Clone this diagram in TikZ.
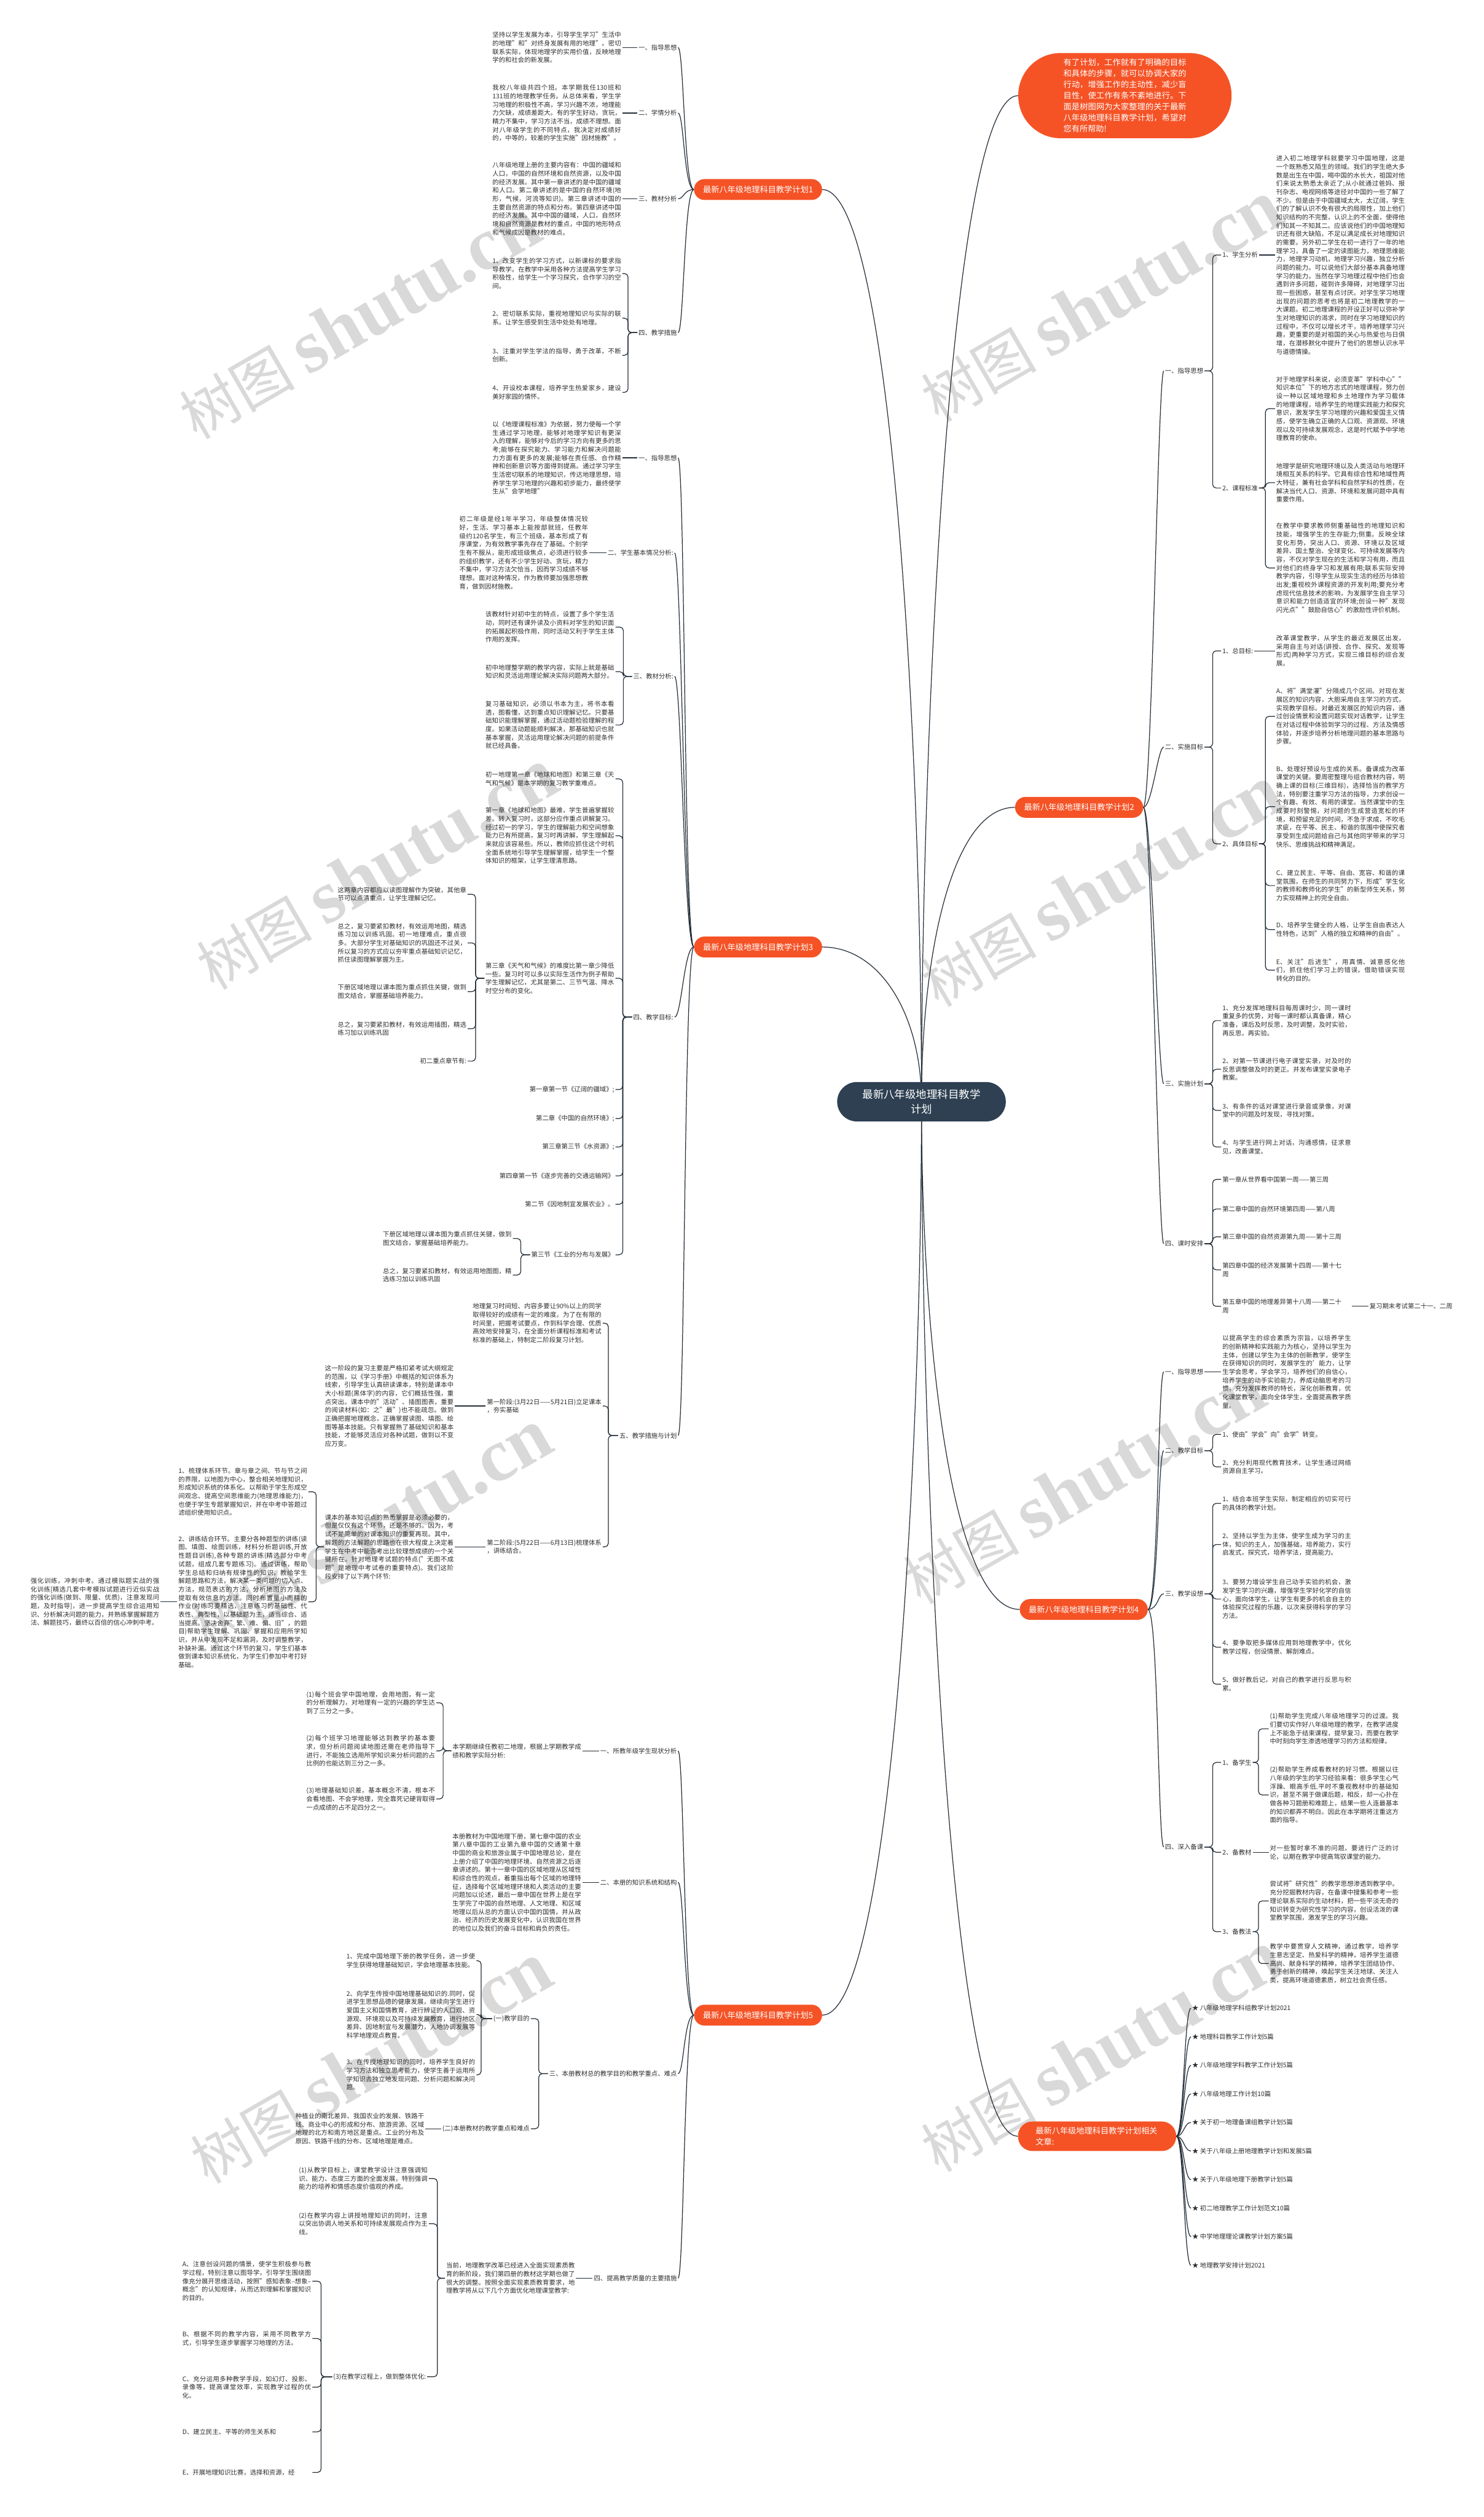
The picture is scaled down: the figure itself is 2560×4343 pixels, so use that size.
\documentclass[tikz,border=0pt]{standalone}
\usepackage{fontspec}
\setmainfont{Noto Sans CJK SC}
\newfontfamily\wmfont{Liberation Serif}
\usepackage{xcolor}
\usepackage{tikz}
\usetikzlibrary{positioning, backgrounds}
\XeTeXlinebreaklocale "zh"
\XeTeXlinebreakskip = 0pt plus 1pt
\tolerance=9999
\emergencystretch=6pt

\definecolor{accent}{RGB}{245,83,38}
\definecolor{rootc}{RGB}{46,64,82}
\definecolor{linec}{RGB}{35,45,55}
\definecolor{textc}{RGB}{45,45,45}
\newcommand{\txtsize}{\fontsize{11}{14.5}\selectfont}
\newcommand{\plansize}{\fontsize{14}{19}\selectfont}

\begin{document}
\begin{tikzpicture}[x=1pt, y=-1pt,
        txt/.style={font=\txtsize, text=textc, text width=222pt, align=justify, inner sep=2pt},
        lbl/.style={font=\txtsize, text=textc, inner sep=2pt},
        plan/.style={fill=accent, text=white, rounded corners=18pt, minimum width=221pt, minimum height=36pt, font=\plansize, inner sep=0pt},
        rootnode/.style={fill=rootc, text=white, rounded corners=34pt, minimum width=291pt, minimum height=68pt, align=center, font=\fontsize{18.5}{25}\selectfont},
        intronode/.style={fill=accent, text=white, rounded corners=73pt, minimum width=368pt, minimum height=147pt, text width=212pt, align=justify, font=\plansize},
        link/.style={draw=linec, line width=1.3pt},
        brace/.style={link, rounded corners=6pt},
        wm/.style={text=black!15, rotate=30, inner sep=0pt}
    ]
    \useasboundingbox (0,0) rectangle (2560,4343);

    % centre
    \node[rootnode] (root) at (1590,1901) {最新八年级地理科目教学\\计划};
    \node[intronode] (intro) at (1941,165) {有了计划，工作就有了明确的目标和具体的步骤，就可以协调大家的行动，增强工作的主动性，减少盲目性，使工作有条不紊地进行。下面是树图网为大家整理的关于最新八年级地理科目教学计划，希望对您有所帮助!};
    \node[plan] (p1) at (1308,327) {最新八年级地理科目教学计划1};
    \node[plan] (p3) at (1308,1634) {最新八年级地理科目教学计划3};
    \node[plan] (p5) at (1308,3477) {最新八年级地理科目教学计划5};
    \node[plan] (p2) at (1862,1393) {最新八年级地理科目教学计划2};
    \node[plan] (p4) at (1870,2777) {最新八年级地理科目教学计划4};
    \node[plan, minimum width=273pt, minimum height=51pt, rounded corners=25pt, text width=212pt, align=left] (rel) at (1893,3686) {最新八年级地理科目教学计划相关\\文章:};

    % plan 1
    \node[lbl, anchor=east] (p1a) at (1170,82) {一、指导思想};
    \node[txt, anchor=east] (p1at) at (1074,82) {坚持以学生发展为本，引导学生学习"生活中的地理"和"对终身发展有用的地理"。密切联系实际，体现地理学的实用价值，反映地理学的和社会的新发展。};
    \node[lbl, anchor=east] (p1b) at (1170,195) {二、学情分析};
    \node[txt, anchor=east] (p1bt) at (1074,195) {我校八年级共四个班。本学期我任130班和131班的地理教学任务。从总体来看，学生学习地理的积极性不高，学习兴趣不浓，地理能力欠缺，成绩差距大。有的学生好动，贪玩，精力不集中，学习方法不当，成绩不理想。面对八年级学生的不同特点，我决定对成绩好的，中等的，较差的学生实施"因材施教"。};
    \node[lbl, anchor=east] (p1c) at (1170,343) {三、教材分析};
    \node[txt, anchor=east] (p1ct) at (1074,343) {八年级地理上册的主要内容有：中国的疆域和人口，中国的自然环境和自然资源，以及中国的经济发展。其中第一章讲述的是中国的疆域和人口。第二章讲述的是中国的自然环境(地形，气候，河流等知识)。第三章讲述中国的主要自然资源的特点和分布。第四章讲述中国的经济发展。其中中国的疆域，人口，自然环境和自然资源是教材的重点，中国的地形特点和气候成因是教材的难点。};
    \node[lbl, anchor=east] (p1d) at (1170,574) {四、教学措施};
    \node[txt, anchor=east] (p1d1) at (1074,472) {1、改变学生的学习方式，以新课标的要求指导教学。在教学中采用各种方法提高学生学习积极性，给学生一个学习探究，合作学习的空间。};
    \node[txt, anchor=east] (p1d2) at (1074,549) {2、密切联系实际，重视地理知识与实际的联系。让学生感受到生活中处处有地理。};
    \node[txt, anchor=east] (p1d3) at (1074,613) {3、注重对学生学法的指导，勇于改革，不断创新。};
    \node[txt, anchor=east] (p1d4) at (1074,677) {4、开设校本课程，培养学生热爱家乡，建设美好家园的情怀。};

    % plan 3
    \node[lbl, anchor=east] (p3a) at (1170,790) {一、指导思想};
    \node[txt, anchor=east] (p3at) at (1074,790) {以《地理课程标准》为依据，努力使每一个学生通过学习地理，能够对地理学知识有更深入的理解，能够对今后的学习方向有更多的思考;能够在探究能力、学习能力和解决问题能力方面有更多的发展;能够在责任感、合作精神和创新意识等方面得到提高。通过学习学生生活密切联系的地理知识，传达地理思想，培养学生学习地理的兴趣和初步能力，最终使学生从"会学地理"};
    \node[lbl, anchor=east] (p3b) at (1164,954) {二、学生基本情况分析:};
    \node[txt, anchor=east] (p3bt) at (1017,954) {初二年级是经1年半学习，年级整体情况较好，生活、学习基本上能按部就班，任教年级约120名学生，有三个班级，基本形成了有序课堂，为有效教学事先存在了基础。个别学生有不服从，能形成班级焦点，必须进行较多的组织教学，还有不少学生好动、贪玩，精力不集中，学习方法欠恰当，因而学习成绩不够理想。面对这种情况，作为教师要加强思想教育，做到因材施教。};
    \node[lbl, anchor=east] (p3c) at (1164,1167) {三、教材分析:};
    \node[txt, anchor=east] (p3c1) at (1062,1082) {该教材针对初中生的特点，设置了多个学生活动，同时还有课外读及小资料对学生的知识面的拓展起积极作用，同时活动又利于学生主体作用的发挥。};
    \node[txt, anchor=east] (p3c2) at (1062,1159) {初中地理整学期的教学内容，实际上就是基础知识和灵活运用理论解决实际问题两大部分。};
    \node[txt, anchor=east] (p3c3) at (1062,1251) {复习基础知识，必须以书本为主，将书本看透，图看懂，达到重点知识理解记忆。只要基础知识能理解掌握，通过活动题检验理解的程度。如果活动题能顺利解决，那基础知识也就基本掌握，灵活运用理论解决问题的前提条件就已经具备。};
    \node[lbl, anchor=east] (p3d) at (1164,1755) {四、教学目标:};
    \node[txt, anchor=east] (p3d1) at (1062,1344) {初一地理第一章《地球和地图》和第三章《天气和气候》是本学期的复习教学重难点。};
    \node[txt, anchor=east] (p3d2) at (1062,1442) {第一章《地球和地图》最难，学生普遍掌握较差。转入复习时，这部分应作重点讲解复习。经过初一的学习，学生的理解能力和空间想象能力已有所提高，复习时再讲解，学生理解起来就应该容易些。所以，教师应抓住这个时机全面系统地引导学生理解掌握，给学生一个整体知识的框架，让学生理清思路。};
    \node[txt, anchor=east] (p3d3) at (1062,1688) {第三章《天气和气候》的难度比第一章少降低一些。复习时可以多以实际生活作为例子帮助学生理解记忆，尤其是第二、三节气温、降水时空分布的变化。};
    \node[txt, anchor=east] (p3d3a) at (807,1543) {这两章内容都应以读图理解作为突破，其他章节可以点清重点，让学生理解记忆。};
    \node[txt, anchor=east] (p3d3b) at (807,1627) {总之，复习要紧扣教材，有效运用地图，精选练习加以训练巩固。初一地理难点，重点很多。大部分学生对基础知识的巩固还不过关，所以复习的方式应以夯牢重点基础知识记忆，抓住读图理解掌握为主。};
    \node[txt, anchor=east] (p3d3c) at (807,1711) {下册区域地理以课本图为重点抓住关键，做到图文结合，掌握基础培养能力。};
    \node[txt, anchor=east] (p3d3d) at (807,1775) {总之，复习要紧扣教材，有效运用插图，精选练习加以训练巩固};
    \node[lbl, anchor=east] (p3d3e) at (807,1831) {初二重点章节有:};
    \node[lbl, anchor=east] (p3d4) at (1062,1880) {第一章第一节《辽阔的疆域》;};
    \node[lbl, anchor=east] (p3d5) at (1062,1930) {第二章《中国的自然环境》;};
    \node[lbl, anchor=east] (p3d6) at (1062,1979) {第三章第三节《水资源》;};
    \node[lbl, anchor=east] (p3d7) at (1062,2029) {第四章第一节《逐步完善的交通运输网》};
    \node[lbl, anchor=east] (p3d8) at (1062,2078) {第二节《因地制宜发展农业》。};
    \node[lbl, anchor=east] (p3d9) at (1062,2165) {第三节《工业的分布与发展》};
    \node[txt, anchor=east] (p3d9a) at (885,2137) {下册区域地理以课本图为重点抓住关键，做到图文结合，掌握基础培养能力。};
    \node[txt, anchor=east] (p3d9b) at (885,2200) {总之，复习要紧扣教材，有效运用地图图，精选练习加以训练巩固};
    \node[lbl, anchor=east] (p3e) at (1170,2477) {五、教学措施与计划};
    \node[txt, anchor=east] (p3e1) at (1040,2283) {地理复习时间短、内容多要让90\%以上的同学取得较好的成绩有一定的难度。为了在有限的时间里，把握考试要点，作到科学合理、优质高效地安排复习，在全面分析课程标准和考试标准的基础上，特制定二阶段复习计划。};
    \node[lbl, anchor=east, align=left] (p3e2) at (1040,2426) {第一阶段:(3月22日——5月21日)立足课本\\，夯实基础};
    \node[txt, anchor=east] (p3e2a) at (785,2426) {这一阶段的复习主要是严格扣紧考试大纲规定的范围，以《学习手册》中概括的知识体系为线索，引导学生认真研读课本，特别是课本中大小标题(黑体字)的内容，它们概括性强，重点突出。课本中的"活动"、插图图表，重要的阅读材料(如：之"最")也不能疏忽。做到正确把握地理概念，正确掌握读图、填图、绘图等基本技能。只有掌握熟了基础知识和基本技能，才能够灵活应对各种试题，做到以不变应万变。};
    \node[lbl, anchor=east, align=left] (p3e3) at (1040,2669) {第二阶段:(5月22日——6月13日)梳理体系\\，讲练结合。};
    \node[txt, anchor=east] (p3e3a) at (785,2669) {课本的基本知识点的熟悉掌握是必须必要的，但是仅仅有这个环节，还是不够的。因为，考试不是简单的对课本知识的重复再现。其中，解题的方法解题的思路也在很大程度上决定着学生在中考中能否考出比较理想成绩的一个关键所在。针对地理考试题的特点("无图不成题"是地理中考试卷的重要特点)。我们这阶段安排了以下两个环节:};
    \node[txt, anchor=east] (p3e3a1) at (532,2574) {1、梳理体系环节。章与章之间、节与节之间的界限，以地图为中心，整合相关地理知识，形成知识系统的体系化。以帮助于学生形成空间观念、提高空间思维能力(地理思维能力)，也便于学生专题掌握知识，并在中考中答题过滤组织使用知识点。};
    \node[txt, anchor=east] (p3e3a2) at (532,2764) {2、讲练结合环节。主要分各种题型的讲练(读图、填图、绘图训练，材料分析题训练,开放性题目训练),各种专题的讲练(精选部分中考试题，组成几套专题练习)。通过讲练，帮助学生总结和归纳有规律性的知识，教给学生解题思路和方法，解决某一类问题的切入点、方法，规范表达的方法，分析地图的方法及提取有效信息的方法。同时布置量小而精的作业(对练习要精选，注意练习的基础性、代表性、典型性，以基础题为主，适当综合、适当提高。坚决舍弃"繁、难、偏、旧"，的题目)帮助学生理解、巩固、掌握和应用所学知识，并从中发现不足和漏洞，及时调整教学，补缺补漏。通过这个环节的复习，学生们基本做到课本知识系统化，为学生们参加中考打好基础。};
    \node[txt, anchor=east] (p3e3a2a) at (277,2764) {强化训练，冲刺中考。通过模拟题实战的强化训练[精选几套中考模拟试题进行近似实战的强化训练(做到、限量、优质)，注意发现问题，及时指导]，进一步提高学生综合运用知识、分析解决问题的能力，并熟练掌握解题方法、解题技巧，最终以百倍的信心冲刺中考。};

    % plan 5
    \node[lbl, anchor=east] (p5a) at (1170,3021) {一、所教年级学生现状分析};
    \node[txt, anchor=east] (p5at) at (1005,3021) {本学期继续任教初二地理，根据上学期教学成绩和教学实际分析:};
    \node[txt, anchor=east] (p5a1) at (753,2938) {(1)每个班会学中国地理，会用地图，有一定的分析理解力，对地理有一定的兴趣的学生达到了三分之一多。};
    \node[txt, anchor=east] (p5a2) at (753,3021) {(2)每个班学习地理能够达到教学的基本要求，但分析问题阅读地图还需在老师指导下进行，不能独立选用所学知识来分析问题的占比例的也能达到三分之一多。};
    \node[txt, anchor=east] (p5a3) at (753,3104) {(3)地理基础知识差，基本概念不清，根本不会看地图、不会学地理，完全靠死记硬背取得一点成绩的占不足四分之一。};
    \node[lbl, anchor=east] (p5b) at (1170,3248) {二、本册的知识系统和结构};
    \node[txt, anchor=east] (p5bt) at (1005,3248) {本册教材为中国地理下册，第七章中国的农业第八章中国的工业第九章中国的交通第十章中国的商业和旅游业属于中国地理总论，是在上册介绍了中国的地理环境、自然资源之后逐章讲述的。第十一章中国的区域地理从区域性和综合性的观点，着重指出每个区域的地理特征，选择每个区域地理环境和人类活动的主要问题加以论述，最后一章中国在世界上是在学生学完了中国的自然地理、人文地理、和区域地理以后从总的方面认识中国的国情，并从政治、经济的历史发展变化中，认识我国在世界的地位以及我们的奋斗目标和肩负的责任。};
    \node[lbl, anchor=east] (p5c) at (1170,3578) {三、本册教材总的教学目的和教学重点、难点};
    \node[lbl, anchor=east] (p5c1) at (916,3483) {(一)教学目的};
    \node[txt, anchor=east] (p5c1a) at (822,3383) {1、完成中国地理下册的教学任务，进一步使学生获得地理基础知识，学会地理基本技能。};
    \node[txt, anchor=east] (p5c1b) at (822,3476) {2、向学生传授中国地理基础知识的.同时，促进学生思想品德的健康发展，继续向学生进行爱国主义和国情教育，进行辨证的人口观、资源观、环境观以及可持续发展教育，进行地区差异、因地制宜与发展潜力，人地协调发展等科学地理观点教育。};
    \node[txt, anchor=east] (p5c1c) at (822,3580) {3、在传授地理知识的同时，培养学生良好的学习方法和独立思考能力，使学生善于运用所学知识去独立地发现问题、分析问题和解决问题。};
    \node[lbl, anchor=east] (p5c2) at (916,3673) {(二)本册教材的教学重点和难点};
    \node[txt, anchor=east] (p5c2t) at (734,3673) {种植业的南北差异、我国农业的发展、铁路干线、商业中心的形成和分布、旅游资源、区域地理的北方和南方地区是重点。工业的分布及原因、铁路干线的分布、区域地理是难点。};
    \node[lbl, anchor=east] (p5d) at (1170,3931) {四、提高教学质量的主要措施};
    \node[txt, anchor=east] (p5dt) at (994,3931) {当前，地理教学改革已经进入全面实现素质教育的新阶段，我们第四册的教材这学期也做了很大的调整。按照全面实现素质教育要求，地理教学将从以下几个方面优化地理课堂教学:};
    \node[txt, anchor=east] (p5d1) at (740,3759) {(1)从教学目标上，课堂教学设计注意强调知识、能力、态度三方面的全面发展，特别强调能力的培养和情感态度价值观的养成。};
    \node[txt, anchor=east] (p5d2) at (740,3837) {(2)在教学内容上讲授地理知识的同时，注意以突出协调人地关系和可持续发展观点作为主线。};
    \node[lbl, anchor=east] (p5d3) at (737,4101) {(3)在教学过程上，做到整体优化:};
    \node[txt, anchor=east] (p5d3a) at (539,3936) {A、注意创设问题的情景，使学生积极参与教学过程，特别注意以图导学，引导学生围绕图像充分展开思维活动，按照"感知表象--想象--概念"的认知规律，从而达到理解和掌握知识的目的。};
    \node[txt, anchor=east] (p5d3b) at (539,4035) {B、根据不同的教学内容，采用不同教学方式，引导学生逐步掌握学习地理的方法。};
    \node[txt, anchor=east] (p5d3c) at (539,4119) {C、充分运用多种教学手段，如幻灯、投影、录像等，提高课堂效率，实现教学过程的优化。};
    \node[txt, anchor=east] (p5d3d) at (539,4196) {D、建立民主、平等的师生关系和};
    \node[txt, anchor=east] (p5d3e) at (539,4266) {E、开展地理知识比赛，选择和资源，经};

    % plan 2
    \node[lbl, anchor=west] (p2a) at (2008,640) {一、指导思想};
    \node[lbl, anchor=west] (p2a1) at (2107,440) {1、学生分析};
    \node[txt, anchor=west] (p2a1t) at (2200,440) {进入初二地理学科就要学习中国地理，这是一个既熟悉又陌生的领域。我们的学生绝大多数是出生在中国，喝中国的水长大，祖国对他们来说太熟悉太亲近了;从小就通过爸妈、报刊杂志、电视网络等途径对中国的一些了解了不少。但是由于中国疆域太大，太辽阔，学生们的了解认识不免有很大的局限性，加上他们知识结构的不完整，认识上的不全面，使得他们知其一不知其二。应该说他们的中国地理知识还有很大缺陷，不足以满足成长对地理知识的需要。另外初二学生在初一进行了一年的地理学习，具备了一定的读图能力，地理思维能力，地理学习动机，地理学习兴趣，独立分析问题的能力。可以说他们大部分基本具备地理学习的能力。当然在学习地理过程中他们也会遇到许多问题，碰到许多障碍，对地理学习出现一些困惑，甚至有点讨厌。对学生学习地理出现的问题的思考也将是初二地理教学的一大课题。初二地理课程的开设正好可以弥补学生对地理知识的渴求，同时在学习地理知识的过程中，不仅可以增长才干，培养地理学习兴趣，更重要的是对祖国的关心与热爱也与日俱增，在潜移默化中提升了他们的思想认识水平与道德情操。};
    \node[lbl, anchor=west] (p2a2) at (2107,842) {2、课程标准};
    \node[txt, anchor=west] (p2a2a) at (2200,705) {对于地理学科来说，必须变革"学科中心""知识本位"下的地方志式的地理课程，努力创设一种以区域地理和乡土地理作为学习载体的地理课程，培养学生的地理实践能力和探究意识，激发学生学习地理的兴趣和爱国主义情感，使学生确立正确的人口观、资源观、环境观以及可持续发展观念，这是时代赋予中学地理教育的使命。};
    \node[txt, anchor=west] (p2a2b) at (2200,833) {地理学是研究地理环境以及人类活动与地理环境相互关系的科学。它具有综合性和地域性两大特征，兼有社会学科和自然学科的性质，在解决当代人口、资源、环境和发展问题中具有重要作用。};
    \node[txt, anchor=west] (p2a2c) at (2200,980) {在教学中要求教师侧重基础性的地理知识和技能，增强学生的生存能力;侧重。反映全球变化形势，突出人口、资源、环境以及区域差异、国土整治、全球变化、可持续发展等内容，不仅对学生现在的生活和学习有用，而且对他们的终身学习和发展有用;联系实际安排教学内容，引导学生从现实生活的经历与体验出发;重视校外课程资源的开发利用;要充分考虑现代信息技术的影响，为发展学生自主学习意识和能力创造适宜的环境;创设一种"发现闪光点""鼓励自信心"的激励性评价机制。};
    \node[lbl, anchor=west] (p2b) at (2008,1289) {二、实施目标};
    \node[lbl, anchor=west] (p2b1) at (2107,1123) {1、总目标:};
    \node[txt, anchor=west] (p2b1t) at (2200,1123) {改革课堂教学，从学生的最近发展区出发，采用自主与对话(讲授、合作、探究、发现等形式)两种学习方式，实现三维目标的综合发展。};
    \node[lbl, anchor=west] (p2b2) at (2107,1456) {2、具体目标};
    \node[txt, anchor=west] (p2b2a) at (2200,1236) {A、将"满堂灌"分隔成几个区间。对现在发展区的知识内容，大胆采用自主学习的方式，实现教学目标。对最近发展区的知识内容，通过创设情景和设置问题实现对话教学，让学生在对话过程中体验到学习的过程、方法及情感体验，并逐步培养分析地理问题的基本思路与步骤。};
    \node[txt, anchor=west] (p2b2b) at (2200,1392) {B、处理好预设与生成的关系。备课成为改革课堂的关键。要周密整理与组合教材内容，明确上课的目标(三维目标)，选择恰当的教学方法，特别要注重学习方法的指导，力求创设一个有趣、有效、有用的课堂。当然课堂中的生成要时刻警惕，对问题的生成营造宽松的环境，和预留充足的时间，不急于求成，不吹毛求疵，在平等、民主、和谐的氛围中使探究者享受到生成问题给自己与其他同学带来的学习快乐、思维挑战和精神满足。};
    \node[txt, anchor=west] (p2b2c) at (2200,1528) {C、建立民主、平等、自由、宽容、和谐的课堂氛围，在师生的共同努力下，形成"学生化的教师和教师化的学生"的新型师生关系，努力实现精神上的完全自由。};
    \node[txt, anchor=west] (p2b2d) at (2200,1604) {D、培养学生健全的人格，让学生自由表达人性特色，达到"人格的独立和精神的自由"。};
    \node[txt, anchor=west] (p2b2e) at (2200,1674) {E、关注"后进生"，用真情、诚意感化他们，抓住他们学习上的错误，借助错误实现转化的目的。};
    \node[lbl, anchor=west] (p2c) at (2008,1870) {三、实施计划};
    \node[txt, anchor=west] (p2c1) at (2107,1761) {1、充分发挥地理科目每周课时少，同一课时重复多的优势，对每一课时都认真备课，精心准备，课后及时反思，及时调整，及时实验，再反思，再实验。};
    \node[txt, anchor=west] (p2c2) at (2107,1845) {2、对第一节课进行电子课堂实录，对及时的反思调整做及时的更正。并发布课堂实录电子教案。};
    \node[txt, anchor=west] (p2c3) at (2107,1916) {3、有条件的话对课堂进行录音或录像，对课堂中的问题及时发现，寻找对策。};
    \node[txt, anchor=west] (p2c4) at (2107,1979) {4、与学生进行网上对话，沟通感情，征求意见，改善课堂。};
    \node[lbl, anchor=west] (p2d) at (2008,2146) {四、课时安排};
    \node[lbl, anchor=west] (p2d1) at (2107,2035) {第一章从世界看中国第一周——第三周};
    \node[lbl, anchor=west] (p2d2) at (2107,2086) {第二章中国的自然环境第四周——第八周};
    \node[lbl, anchor=west] (p2d3) at (2107,2134) {第三章中国的自然资源第九周——第十三周};
    \node[lbl, anchor=west, align=left] (p2d4) at (2107,2191) {第四章中国的经济发展第十四周——第十七\\周};
    \node[lbl, anchor=west, align=left] (p2d5) at (2107,2254) {第五章中国的地理差异第十八周——第二十\\周};
    \node[lbl, anchor=west] (p2d5a) at (2361,2254) {复习期末考试第二十一、二周};

    % plan 4
    \node[lbl, anchor=west] (p4a) at (2008,2367) {一、指导思想};
    \node[txt, anchor=west] (p4at) at (2107,2367) {以提高学生的综合素质为宗旨，以培养学生的创新精神和实践能力为核心，坚持以学生为主体，创建以学生为主体的创新教学，使学生在获得知识的同时，发展学生的'能力，让学生学会思考，学会学习，培养他们的自信心，培养学生的动手实验能力，养成动脑思考的习惯，充分发挥教师的特长，深化创新教育，优化课堂教学，面向全体学生，全面提高教学质量。};
    \node[lbl, anchor=west] (p4b) at (2008,2503) {二、教学目标};
    \node[lbl, anchor=west] (p4b1) at (2107,2475) {1、使由"学会"向"会学"转变。};
    \node[txt, anchor=west] (p4b2) at (2107,2531) {2、充分利用现代教育技术，让学生通过网络资源自主学习。};
    \node[lbl, anchor=west] (p4c) at (2008,2750) {三、教学设想};
    \node[txt, anchor=west] (p4c1) at (2107,2594) {1、结合本班学生实际，制定相应的切实可行的具体的教学计划。};
    \node[txt, anchor=west] (p4c2) at (2107,2665) {2、坚持以学生为主体，使学生成为学习的主体，知识的主人，加强基础，培养能力，实行启发式，探究式，培养学法，提高能力。};
    \node[txt, anchor=west] (p4c3) at (2107,2759) {3、要努力增设学生自己动手实验的机会，激发学生学习的兴趣，增强学生学好化学的自信心，面向体学生，让学生有更多的机会自主的体验探究过程的乐趣，以次来获得科学的学习方法。};
    \node[txt, anchor=west] (p4c4) at (2107,2842) {4、要争取把多媒体应用到地理教学中，优化教学过程，创设情景、解剖难点。};
    \node[txt, anchor=west] (p4c5) at (2107,2906) {5、做好教后记，对自己的教学进行反思与积累。};
    \node[lbl, anchor=west] (p4d) at (2008,3187) {四、深入备课};
    \node[lbl, anchor=west] (p4d1) at (2107,3041) {1、备学生};
    \node[txt, anchor=west] (p4d1a) at (2189,2983) {(1)帮助学生完成八年级地理学习的过渡。我们要切实作好八年级地理的教学，在教学进度上不能急于结束课程，提早复习，而要在教学中时刻向学生渗透地理学习的方法和规律。};
    \node[txt, anchor=west] (p4d1b) at (2189,3097) {(2)帮助学生养成看教材的好习惯。根据以往八年级的学生的学习经验来看：很多学生心气浮躁、眼高手低.平时不重视教材中的基础知识，甚至不屑于做课后题，相反，却一心扑在做各种习题册和难题上，结果一些人连最基本的知识都弄不明白。因此在本学期将注重这方面的指导。};
    \node[lbl, anchor=west] (p4d2) at (2107,3196) {2、备教材};
    \node[txt, anchor=west] (p4d2t) at (2189,3196) {对一些暂时拿不准的问题，要进行广泛的讨论，以期在教学中提高驾驭课堂的能力。};
    \node[lbl, anchor=west] (p4d3) at (2107,3333) {3、备教法};
    \node[txt, anchor=west] (p4d3a) at (2189,3280) {尝试将"研究性"的教学思想渗透到教学中。充分挖掘教材内容，在备课中搜集和参考一些理论联系实际的生动材料，把一些平淡无奇的知识转变为研究性学习的内容，创设活泼的课堂教学氛围，激发学生的学习兴趣。};
    \node[txt, anchor=west] (p4d3b) at (2189,3388) {教学中要贯穿人文精神，通过教学，培养学生意志坚定、热爱科学的精神，培养学生道德高尚、献身科学的精神，培养学生团结协作、勇于创新的精神，唤起学生关注地球、关注人类，提高环境道德素质，树立社会责任感。};

    % related articles
    \foreach \t [count=\i] in {八年级地理学科组教学计划2021, 地理科目教学工作计划5篇, 八年级地理学科教学工作计划5篇, 八年级地理工作计划10篇, 关于初一地理备课组教学计划5篇, 关于八年级上册地理教学计划和发展5篇, 关于八年级地理下册教学计划5篇, 初二地理教学工作计划范文10篇, 中学地理理论课教学计划方案5篇, 地理教学安排计划2021}
        \node[lbl, anchor=west] (r\i) at (2055,{3465+49.3*(\i-1)}) {★ \t};

    \begin{scope}[on background layer]
        % watermarks
        \foreach \p in {(620,550), (1900,520), (650,1500), (1900,1530), (640,2640), (1870,2560), (640,3560), (1900,3540)}
            \node[wm] at \p {\fontsize{100}{100}\selectfont 树图 \wmfont\bfseries\fontsize{130}{130}\selectfont shutu.cn};

        % root links
        \draw[link] (root.center) .. controls +(0,-600) and +(120,0) .. (p1.east);
        \draw[link] (root.center) .. controls +(0,-150) and +(100,0) .. (p3.east);
        \draw[link] (root.center) .. controls +(0,600) and +(120,0) .. (p5.east);
        \draw[link] (root.center) .. controls +(0,-600) and +(-120,0) .. (intro.west);
        \draw[link] (root.center) .. controls +(0,-250) and +(-110,0) .. (p2.west);
        \draw[link] (root.center) .. controls +(0,400) and +(-120,0) .. (p4.west);
        \draw[link] (root.center) .. controls +(0,600) and +(-120,0) .. (rel.west);

        % plan links, left
        \foreach \c in {p1a,p1b,p1c,p1d}
            \draw[link] (p1.west) .. controls +(-17,0) and +(10,0) .. (\c.east);
        \foreach \c in {p3a,p3b,p3c,p3d,p3e}
            \draw[link] (p3.west) .. controls +(-17,0) and +(12,0) .. (\c.east);
        \foreach \c in {p5a,p5b,p5c,p5d}
            \draw[link] (p5.west) .. controls +(-17,0) and +(10,0) .. (\c.east);

        % plan links, right
        \foreach \c in {p2a,p2b,p2c,p2d}
            \draw[link] (p2.east) .. controls +(15,0) and +(-10,0) .. (\c.west);
        \foreach \c in {p4a,p4b,p4c,p4d}
            \draw[link] (p4.east) .. controls +(18,0) and +(-10,0) .. (\c.west);
        \foreach \i in {1,...,10}
            \draw[link] (rel.east) .. controls +(13,0) and +(-12,0) .. (r\i.west);
    \end{scope}

    % brackets, left
    \draw[link] (p1a.west) -- (p1at.east);
    \draw[link] (p1b.west) -- (p1bt.east);
    \draw[link] (p1c.west) -- (p1ct.east);
    \foreach \c in {p1d1,p1d2,p1d3,p1d4}
        \draw[brace] (p1d.west) -- ++(-16,0) |- (\c.east);
    \draw[link] (p3a.west) -- (p3at.east);
    \draw[link] (p3b.west) -- (p3bt.east);
    \foreach \c in {p3c1,p3c2,p3c3}
        \draw[brace] (p3c.west) -- ++(-15,0) |- (\c.east);
    \foreach \c in {p3d1,p3d2,p3d3,p3d4,p3d5,p3d6,p3d7,p3d8,p3d9}
        \draw[brace] (p3d.west) -- ++(-16,0) |- (\c.east);
    \foreach \c in {p3d3a,p3d3b,p3d3c,p3d3d,p3d3e}
        \draw[brace] (p3d3.west) -- ++(-15,0) |- (\c.east);
    \foreach \c in {p3d9a,p3d9b}
        \draw[brace] (p3d9.west) -- ++(-16,0) |- (\c.east);
    \foreach \c in {p3e1,p3e2,p3e3}
        \draw[brace] (p3e.west) -- ++(-17,0) |- (\c.east);
    \draw[link] (p3e2.west) -- (p3e2a.east);
    \draw[link] (p3e3.west) -- (p3e3a.east);
    \foreach \c in {p3e3a1,p3e3a2}
        \draw[brace] (p3e3a.west) -- ++(-13,0) |- (\c.east);
    \draw[link] (p3e3a2.west) -- (p3e3a2a.east);
    \draw[link] (p5a.west) -- (p5at.east);
    \foreach \c in {p5a1,p5a2,p5a3}
        \draw[brace] (p5at.west) -- ++(-14,0) |- (\c.east);
    \draw[link] (p5b.west) -- (p5bt.east);
    \foreach \c in {p5c1,p5c2}
        \draw[brace] (p5c.west) -- ++(-16,0) |- (\c.east);
    \foreach \c in {p5c1a,p5c1b,p5c1c}
        \draw[brace] (p5c1.west) -- ++(-19,0) |- (\c.east);
    \draw[link] (p5c2.west) -- (p5c2t.east);
    \draw[link] (p5d.west) -- (p5dt.east);
    \foreach \c in {p5d1,p5d2,p5d3}
        \draw[brace] (p5dt.west) -- ++(-13,0) |- (\c.east);
    \foreach \c in {p5d3a,p5d3b,p5d3c,p5d3d,p5d3e}
        \draw[brace] (p5d3.west) -- ++(-19,0) |- (\c.east);

    % brackets, right
    \foreach \c in {p2a1,p2a2}
        \draw[brace] (p2a.east) -- ++(14,0) |- (\c.west);
    \draw[link] (p2a1.east) -- (p2a1t.west);
    \foreach \c in {p2a2a,p2a2b,p2a2c}
        \draw[brace] (p2a2.east) -- ++(11,0) |- (\c.west);
    \foreach \c in {p2b1,p2b2}
        \draw[brace] (p2b.east) -- ++(14,0) |- (\c.west);
    \draw[link] (p2b1.east) -- (p2b1t.west);
    \foreach \c in {p2b2a,p2b2b,p2b2c,p2b2d,p2b2e}
        \draw[brace] (p2b2.east) -- ++(11,0) |- (\c.west);
    \foreach \c in {p2c1,p2c2,p2c3,p2c4}
        \draw[brace] (p2c.east) -- ++(14,0) |- (\c.west);
    \foreach \c in {p2d1,p2d2,p2d3,p2d4,p2d5}
        \draw[brace] (p2d.east) -- ++(14,0) |- (\c.west);
    \draw[link] (p2d5.east) ++(16,0) -- (p2d5a.west);
    \draw[link] (p4a.east) -- (p4at.west);
    \foreach \c in {p4b1,p4b2}
        \draw[brace] (p4b.east) -- ++(14,0) |- (\c.west);
    \foreach \c in {p4c1,p4c2,p4c3,p4c4,p4c5}
        \draw[brace] (p4c.east) -- ++(14,0) |- (\c.west);
    \foreach \c in {p4d1,p4d2,p4d3}
        \draw[brace] (p4d.east) -- ++(14,0) |- (\c.west);
    \foreach \c in {p4d1a,p4d1b}
        \draw[brace] (p4d1.east) -- ++(10,0) |- (\c.west);
    \draw[link] (p4d2.east) -- (p4d2t.west);
    \foreach \c in {p4d3a,p4d3b}
        \draw[brace] (p4d3.east) -- ++(10,0) |- (\c.west);

\end{tikzpicture}
\end{document}
